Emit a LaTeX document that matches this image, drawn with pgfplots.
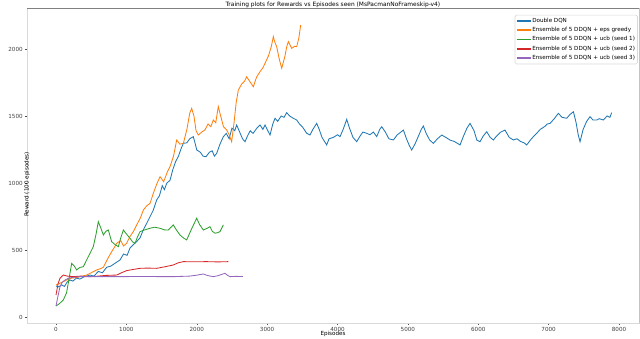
\documentclass[border=0pt]{standalone}
\usepackage{pgfplots}
\pgfplotsset{compat=1.18}
\usepackage{fontspec}
\setmainfont{DejaVu Sans}
\definecolor{tabblue}{HTML}{1F77B4}
\definecolor{taborange}{HTML}{FF7F0E}
\definecolor{tabgreen}{HTML}{2CA02C}
\definecolor{tabred}{HTML}{D62728}
\definecolor{tabpurple}{HTML}{9467BD}
\newcommand{\smallfont}{\fontsize{4}{5}\selectfont}
\begin{document}
\begin{tikzpicture}
\begin{axis}[
    at={(0,0)}, anchor=south west,
    scale only axis,
    width=15.3cm, height=7.875cm,
    xmin=-412, xmax=8284, ymin=-45, ymax=2306,
    xtick={0,1000,...,8000},
    ytick={0,500,...,2000},
    scaled ticks=false,
    /pgf/number format/assume math mode=true,
    /pgf/number format/set thousands separator={},
    tick label style={font=\smallfont, text=black!75},
    xticklabel style={inner sep=0pt, anchor=north, yshift=-0.04cm},
    yticklabel style={inner sep=0pt, anchor=east, xshift=-0.05cm},
    tick align=outside, major tick length=0.05cm,
    tick style={black!70, line width=0.3pt},
    xtick pos=lower, ytick pos=left,
    axis line style={black!15},
    every axis title shift=0pt,
    title={Training plots for Rewards vs Episodes seen (MsPacmanNoFrameskip-v4)},
    title style={font=\fontsize{4.2}{5}\selectfont, at={(0.5,1)}, anchor=south, inner sep=0.3pt},
    xlabel={Episodes},
    ylabel={Reward (100 episodes)},
    label style={font=\smallfont},
    xlabel style={at={(axis description cs:0.5,0)}, anchor=center, yshift=-0.275cm},
    ylabel style={at={(axis description cs:0,0.5)}, anchor=center, xshift=-0.475cm},
    legend style={at={(rel axis cs:0.998,0.978)}, anchor=north east,
        font=\smallfont, draw=black!15, fill=white, rounded corners=1pt,
        inner sep=1.2pt, row sep=0.9pt, nodes={inner sep=0.6pt}},
    legend cell align=left,
    legend image code/.code={\draw[#1, line width=1.1pt] (0cm,0cm) -- (0.33cm,0cm);},
    every axis plot/.append style={line width=0.6pt, no markers},
]
\addplot[color=tabblue] coordinates {
(0,231) (40,225) (80,240) (120,228) (160,262) (199,276) (240,268) (290,290)
(340,283) (400,300) (483,313) (540,305) (600,340) (660,330) (720,371) (780,380)
(850,405) (909,425) (960,470) (1010,460) (1052,515) (1100,540) (1150,565)
(1194,590) (1240,650) (1290,700) (1336,748) (1383,798) (1430,873) (1470,905)
(1510,980) (1540,950) (1573,998) (1620,1020) (1660,1100) (1700,1160)
(1740,1200) (1780,1260) (1810,1296) (1860,1300) (1900,1330) (1951,1346)
(1980,1290) (2000,1246) (2050,1230) (2090,1200) (2132,1196) (2180,1230)
(2220,1240) (2250,1200) (2283,1221) (2330,1290) (2378,1346) (2420,1370)
(2460,1330) (2500,1410) (2540,1390) (2567,1433) (2610,1380) (2650,1330)
(2686,1308) (2720,1350) (2760,1390) (2800,1370) (2852,1408) (2899,1433)
(2940,1400) (2970,1433) (3000,1400) (3041,1358) (3080,1440) (3112,1483)
(3150,1460) (3200,1500) (3240,1490) (3278,1525) (3320,1500) (3372,1483)
(3420,1470) (3460,1440) (3500,1420) (3562,1371) (3609,1358) (3650,1400)
(3704,1445) (3740,1400) (3780,1340) (3846,1284) (3880,1330) (3940,1340)
(4000,1360) (4036,1346) (4080,1400) (4131,1475) (4170,1410) (4220,1340)
(4273,1308) (4320,1350) (4360,1380) (4415,1371) (4460,1360) (4510,1380)
(4557,1346) (4600,1400) (4628,1420) (4680,1380) (4730,1330) (4794,1321)
(4850,1360) (4900,1380) (4936,1395) (4980,1330) (5020,1280) (5054,1246)
(5100,1290) (5150,1350) (5190,1400) (5220,1425) (5260,1370) (5310,1320)
(5362,1296) (5420,1330) (5481,1358) (5540,1340) (5600,1320) (5660,1310)
(5741,1284) (5790,1350) (5840,1410) (5883,1445) (5940,1390) (5980,1320)
(6025,1308) (6070,1350) (6120,1383) (6170,1340) (6215,1321) (6260,1350)
(6320,1380) (6380,1395) (6440,1340) (6499,1321) (6550,1330) (6600,1310)
(6650,1300) (6688,1284) (6740,1320) (6790,1350) (6831,1371) (6880,1400)
(6940,1420) (6980,1440) (7020,1445) (7080,1480) (7138,1520) (7190,1490)
(7257,1483) (7300,1510) (7352,1532) (7390,1450) (7420,1360) (7446,1308)
(7490,1400) (7540,1460) (7588,1495) (7630,1470) (7683,1470) (7720,1480)
(7777,1470) (7830,1500) (7870,1490) (7896,1525)
};
\addlegendentry{Double DQN}
\addplot[color=taborange] coordinates {
(0,239) (50,250) (100,262) (152,276) (220,290) (300,295) (370,305) (436,313)
(500,330) (578,351) (630,360) (673,371) (730,430) (791,487) (830,520)
(862,550) (920,570) (960,530) (1004,550) (1050,600) (1099,637) (1150,690)
(1200,740) (1241,798) (1290,830) (1336,848) (1383,923) (1430,990)
(1478,1047) (1530,1010) (1580,1080) (1620,1122) (1670,1200) (1715,1321)
(1760,1290) (1810,1296) (1860,1400) (1900,1520) (1928,1557) (1960,1500)
(1990,1390) (2022,1358) (2070,1380) (2117,1396) (2160,1440) (2200,1420)
(2235,1470) (2270,1450) (2306,1570) (2340,1500) (2380,1420) (2425,1396)
(2460,1360) (2496,1308) (2530,1450) (2560,1600) (2591,1694) (2640,1740)
(2680,1760) (2709,1793) (2750,1760) (2804,1719) (2850,1790) (2899,1831)
(2940,1860) (2970,1893) (3020,1950) (3060,2020) (3088,2092) (3110,2050)
(3136,2017) (3170,1930) (3207,1856) (3250,1940) (3280,2020) (3302,2055)
(3349,2005) (3390,2020) (3420,2017) (3450,2080) (3477,2179)
};
\addlegendentry{Ensemble of 5 DDQN + eps greedy}
\addplot[color=tabgreen] coordinates {
(0,82) (50,100) (104,127) (150,180) (190,300) (223,400) (260,380) (293,351)
(340,370) (388,375) (440,430) (483,475) (530,525) (570,620) (601,711)
(640,660) (673,612) (710,640) (744,649) (770,600) (791,562) (840,540)
(886,525) (920,590) (957,649) (1000,620) (1052,587) (1090,560) (1123,550)
(1160,600) (1194,637) (1260,650) (1336,662) (1400,670) (1478,662)
(1540,650) (1596,649) (1667,687) (1710,650) (1762,612) (1810,590)
(1857,575) (1920,650) (1999,737) (2040,690) (2094,649) (2140,660)
(2188,674) (2220,640) (2259,625) (2300,630) (2330,637) (2378,687)
};
\addlegendentry{Ensemble of 5 DDQN + ucb (seed 1)}
\addplot[color=tabred] coordinates {
(0,164) (30,250) (57,289) (104,313) (160,305) (246,301) (350,305) (483,301)
(600,305) (700,310) (862,313) (930,330) (1004,346) (1100,355) (1194,363)
(1300,365) (1430,363) (1550,375) (1667,388) (1740,405) (1810,413)
(1950,412) (2141,413) (2300,411) (2448,413)
};
\addlegendentry{Ensemble of 5 DDQN + ucb (seed 2)}
\addplot[color=tabpurple] coordinates {
(0,82) (30,160) (57,226) (90,260) (128,276) (180,290) (246,296) (350,301)
(483,301) (862,301) (1200,302) (1667,301) (1900,305) (2000,312) (2094,321)
(2150,310) (2235,301) (2300,308) (2401,326) (2440,310) (2472,301)
(2550,303) (2657,302)
};
\addlegendentry{Ensemble of 5 DDQN + ucb (seed 3)}
\draw[black!50, line width=1.5pt] (rel axis cs:0,1) -- (rel axis cs:1,1);
\draw[black!80, line width=0.6pt] (rel axis cs:1,0) -- (rel axis cs:1,1);
\end{axis}
\pgfresetboundingbox
\path (-0.675cm,-0.375cm) rectangle (15.325cm,8.075cm);
\end{tikzpicture}
\end{document}
